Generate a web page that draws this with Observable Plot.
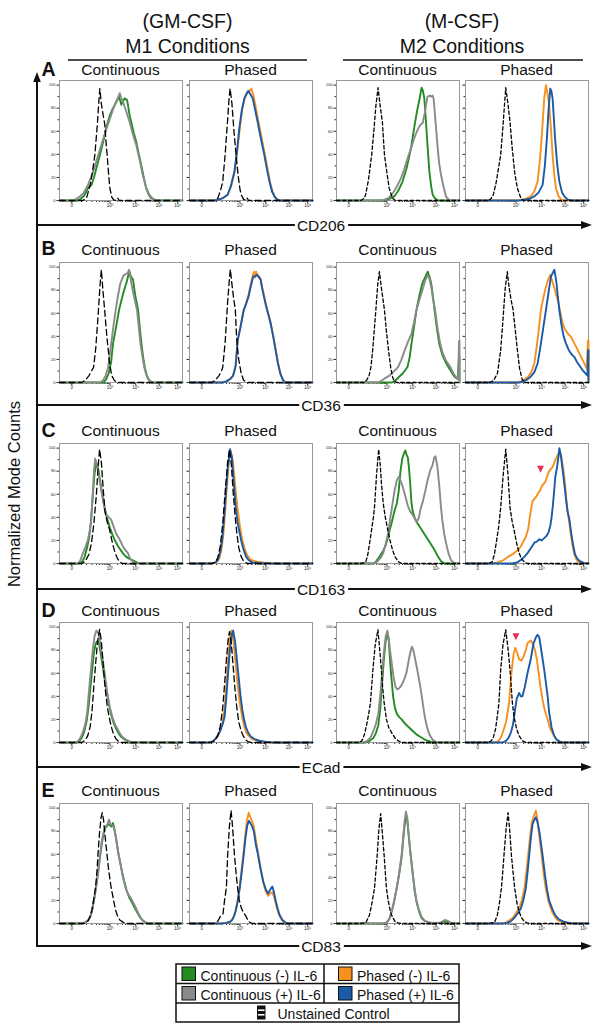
<!DOCTYPE html>
<html><head><meta charset="utf-8">
<script src="https://cdn.jsdelivr.net/npm/d3@7"></script>
<script src="https://cdn.jsdelivr.net/npm/@observablehq/plot@0.6"></script>
<style>
body{margin:0;background:#fff;}
#fig{position:relative;width:601px;height:1032px;font-family:"Liberation Sans",Arial,sans-serif;overflow:hidden;background:#fff}
.pnl{position:absolute}
#deco{position:absolute;left:0;top:0}
</style></head><body>
<div id="fig"><svg id="deco" width="601" height="1032"></svg></div>
<script>
// ---------- labels / ticks ----------
const markers = ["CD206","CD36","CD163","ECad","CD83"];
const rowLetters = ["A","B","C","D","E"];
const columnTitles = ["Continuous","Phased","Continuous","Phased"];
const groupTitles = [["(GM-CSF)","M1 Conditions"],["(M-CSF)","M2 Conditions"]];
const yTicks = [0,20,40,60,80,100];
const yMinor = [10,30,50,70,90];
const xTickPos = [10,41,62,81,96];
const xTickLabels = ["0","10³","10⁴","10⁵","10⁶"];
const legendNames = ["Continuous (-) IL-6","Continuous (+) IL-6","Phased (-) IL-6","Phased (+) IL-6","Unstained Control"];
const colors = {contNeg:"#228b22", contPos:"#8a8a8a", phasNeg:"#f7901e", phasPos:"#1b5aa6", unst:"#000"};

// ---------- data: [display position (0-100), normalized mode count] ----------
// Row A: CD206
const CD206_M1C_unst = [[19,0],[22,2],[25.5,16],[27.5,30],[28.8,40],[30.9,68],[32,86],[32.8,97],[34,84],[35.5,74],[36.8,66],[38,48],[38.7,40],[40,22],[40.9,11],[42.5,3],[44,0.5],[46.5,0],[47.5,2],[48.5,0]];
const CD206_M1C_neg = [[14,0],[16.7,1],[20,4],[23.4,11],[26,13.5],[28,20],[30,28],[33,40],[35.5,51],[38,63],[41,74],[43,79],[45,83],[47,87],[48.4,90],[49.5,86],[50.3,83],[51.5,86],[53,88.5],[55,87],[57,74],[59,65],[60.5,58],[62.4,51],[64.5,40],[66.4,31],[68.5,20],[70.4,11],[72.5,5],[74.5,2],[78.5,0]];
const CD206_M1C_pos = [[10,0],[13,1],[16,3],[19.4,6],[23,13],[27.4,25],[30.5,36],[34,48],[37.5,60],[41,71],[43.5,79],[46,85.6],[47.5,89],[49,93],[50.2,89],[51.6,85.6],[54,78],[57,68],[59.5,58],[62.4,48],[65,36],[67.7,22],[70.5,11],[73,5],[75.5,2],[78.5,0]];
const CD206_M1P_unst = [[20,0],[23,2],[25,8],[27,16],[29,40],[31,70],[32,86],[33,97],[34.5,84],[36,62],[37.8,40],[39.5,22],[41,10],[42,5],[44,1],[46,0],[47,2],[48,0]];
const CD206_M1P_neg = [[20,0],[23,0.5],[27,2],[31,5],[34,13],[37,27],[39,44],[41,64],[43,80],[45,89],[47,93],[49,95],[50.3,97],[52,91],[54,80],[56,69],[58.5,55],[61.3,40],[63.5,27],[65.5,16],[67.5,8],[69.5,3],[71.5,1],[74,0]];
const CD206_M1P_pos = [[20,0],[23,0.5],[27,2],[31,5],[33.5,12],[36.5,25],[38.5,42],[40.5,62.5],[42.5,78],[44.6,88.5],[46.5,93],[47.8,95],[49.5,92],[51.4,88.5],[53.5,78],[55.4,68],[58,54],[60.8,39.5],[63,27],[65,16.4],[67,8],[69,3.5],[71,1],[73,0]];
const CD206_M2C_unst = [[20,0],[22.5,2],[23.7,5],[26,18],[28.6,39.5],[30.5,62],[32,82],[33.8,97.7],[35.5,82],[37.3,68],[39,39.5],[41,24],[42.8,10.7],[45.5,2],[48,0]];
const CD206_M2C_neg = [[38,0],[40,0.5],[43,1.5],[46.9,3.5],[50,8],[53.7,16.4],[57,28],[60.5,45],[63,62],[65.4,77],[67.5,88],[69.2,97.7],[70.3,95],[71.4,88.5],[72.5,72],[73.6,54],[74.5,40],[75.5,25],[77,12],[78.2,5],[80,2],[82.3,0]];
const CD206_M2C_pos = [[36,0],[38.7,0.5],[42,2],[44,4],[46.9,8],[49,12],[52.3,19],[55,27],[57.8,36.6],[60.5,45],[63.2,54],[65,59],[67.3,64],[68.5,66],[70,67],[71,72],[72,77],[73,84],[74,90],[76,91],[77,90],[78.2,91],[79,88],[79.6,80],[81,62],[82.3,45],[83.5,32],[85,22],[87,12],[89,3.5],[91,1],[93,0]];
const CD206_M2P_unst = [[19,0],[21,2],[22.6,5],[25,16],[28.6,39.5],[30.5,65],[32.7,97.7],[34.5,84],[36.2,68],[38,45],[40,24],[42.2,10.7],[45,2],[47,0]];
const CD206_M2P_neg = [[42,0],[45,0.5],[49,1.5],[53,3.5],[56,8],[58.6,16.4],[60.5,35],[61.9,54],[63,72],[64,88.5],[65.4,100],[66.5,94],[68,83],[69.5,62],[70.8,39.5],[72.2,22],[73.6,10.7],[75.5,4],[77.7,1],[80,0]];
const CD206_M2P_pos = [[44,0],[47.7,0.5],[52,1.5],[55.9,3.5],[59.5,7],[62.7,13.5],[64.5,30],[66.2,54],[67.5,78],[68.9,97],[69.8,95],[70.8,88.5],[71.8,72],[72.8,54],[74.5,32],[76.3,16.4],[78.5,7],[80.4,3.5],[83,1],[85.8,0]];

// Row B: CD36
const CD36_M1C_unst = [[18,0],[21,2],[24,6],[26,10],[27.7,13],[29.5,30],[31.5,60],[33,85],[34,97.7],[35.3,80],[36.7,62.8],[38.5,40],[40.8,16],[42.5,6],[44.5,2],[47,0]];
const CD36_M1C_neg = [[36,0],[38,3],[40,8],[42,18],[43.5,33.7],[46,48],[48.4,62.8],[50.5,72],[52.5,80],[54.3,86],[56,93],[57,96],[58,92],[59.8,89],[61.5,76],[63.9,62.8],[65.2,48],[66.6,33.7],[68,22],[69.3,13],[71,6],[73,2],[75,0]];
const CD36_M1C_pos = [[33,0],[35.5,2],[37.5,6],[39.5,13],[42,33.7],[44,50],[45.7,62.8],[47.5,75],[49.5,86],[51,90],[52.2,93],[54,94],[55.5,95],[56.5,97.7],[57.5,92],[58.4,86],[60.5,75],[63,62.8],[64.5,48],[65.8,33.7],[67.5,22],[69,13],[70.5,7],[72,3],[74,1],[76,0]];
const CD36_M1P_unst = [[18,0],[21,2],[24,6],[26,10],[27,13],[29,35],[31,70],[32.5,90],[33.2,98],[34.5,85],[36,72],[37.3,62.8],[38,45],[38.7,33.7],[40,20],[42,8],[44,2],[47,0]];
const CD36_M1P_neg = [[27,0],[30,1],[33,3],[35.5,6],[37.5,15],[39.2,37],[41.5,49],[44.1,63],[46,69],[48,76],[50,86],[51.5,93],[52.5,96],[53.3,91],[54.2,96],[55.2,93],[56.5,92],[57.8,90],[59,83],[60.5,76],[62.5,66],[64.3,59],[66,52],[68,41],[70,29],[72,17],[74,8],[76,2.5],[78,0]];
const CD36_M1P_pos = [[27,0],[30,1],[33,3],[35.5,6],[37.5,14],[39.2,36.6],[41.5,48],[44.1,62.8],[46,68],[48,74.4],[50,84],[51.8,91.9],[53.5,92],[55,93.3],[56.5,91],[57.8,89],[59,82],[60.5,74.4],[62.5,65],[64.3,58],[66,51],[68,40],[70,28],[72,16],[74,7],[76,2],[78,0]];
const CD36_M2C_unst = [[22,0],[24.5,2],[26.5,6],[28,13.4],[29.4,28],[32,62.8],[33.5,85],[34.9,96],[36.5,82],[39,62.8],[40.5,45],[42.3,28],[44,13.4],[45.5,5],[47,1],[49,0]];
const CD36_M2C_neg = [[45,0],[48,2],[51,5],[54,8],[57.7,13.4],[59.5,22],[61,33.7],[63,48],[65,62.8],[67.5,76],[69.8,86],[72,91],[74.2,96],[75.5,92],[77,86],[78.5,74],[79.7,62.8],[81.5,48],[83.5,33.7],[86,24],[88.5,18],[91,13.4],[93.5,9],[96,5],[98.5,3],[99.6,22],[100,22]];
const CD36_M2C_pos = [[34,0],[37,2],[40,4],[43,6],[46,9],[48,11],[50,13.4],[52.5,19],[55.5,28],[58,35],[61,42.4],[63,52],[65,62.8],[67.5,72],[69.8,80],[72,88],[74.2,93.3],[75.5,90],[77,83],[78.5,72],[80.2,62.8],[82,48],[84.3,33.7],[86.5,25],[89,19],[92.6,13.4],[95,8],[97.5,4],[99,3],[99.6,36],[100,36]];
const CD36_M2P_unst = [[20,0],[23,2],[26,8],[28.6,28],[30.5,55],[32.3,82],[34,96],[35.5,82],[37,72],[38.7,62.8],[40.5,45],[42.2,28],[44,12],[46,3],[48,0]];
const CD36_M2P_neg = [[42,0],[45,1],[48,2.5],[51,5],[53.5,9],[55.9,16.3],[58,32],[59.5,45],[61.3,62.8],[63,72],[64.5,79],[66.2,86],[67.5,90],[69,93.3],[70.5,88],[72.8,80],[74,75],[75,71.5],[76.5,64],[78,56],[79,51],[81,46],[83.5,42],[85.8,39.5],[88,35],[91.3,28],[94,22],[96.7,16.3],[98.5,12],[99.6,36.6],[100,36.6]];
const CD36_M2P_pos = [[44,0],[47,1],[50,2.5],[53,5],[56,9],[58.6,16.3],[60,25],[61.3,33.7],[63.3,48],[65.4,62.8],[67.5,78],[69.5,91.9],[71,95],[72.2,97.7],[73,93],[74,86],[75,75],[76.3,62.8],[78,50],[79.8,40],[81.7,33.7],[84,28],[86.5,24],[88.6,22],[90.5,18],[92.6,14.8],[95,11],[97.5,8],[99.2,6],[99.6,28],[100,28]];

// Row C: CD163
const CD163_M1C_unst = [[18,0],[21,2],[24,8],[26,18],[28,35],[30,60],[31.5,85],[32.6,99],[34,88],[35.5,65],[37,45],[39,35],[40.8,29],[43,18],[45,10],[47,4.5],[49,1.5],[51,0]];
const CD163_M1C_neg = [[16,0],[18.5,1.5],[20.5,6],[22.5,14],[24,22],[25.5,35],[27,58],[28.5,78],[30,87],[31.5,82],[33,72],[35,58],[37,46],[39,38],[41,31],[43,25],[44.8,20.6],[47,16],[49.5,12],[51.6,8.8],[54,6],[57,4],[60,2.5],[62,1.5],[65,0]];
const CD163_M1C_pos = [[14,0],[16.5,1.5],[19,8.8],[21,14],[23.1,20.6],[24.5,28],[25.8,38],[27,60],[28,80],[29,91],[30.5,86],[32,76],[34,63],[36,52],[38,42.6],[40,40],[42,38],[44,32],[46,26],[49,20.6],[52,14],[55.7,8.8],[57.5,4],[59.8,1.5],[62,0]];
const CD163_M1P_unst = [[18,0],[21,1],[23,5],[25,15],[27,34],[29,62],[31,88],[32.5,99],[34,86],[35.5,62],[37,42],[38.5,26],[40,14],[42,6],[44,2],[47,0]];
const CD163_M1P_neg = [[19,0],[22,1],[24,4],[26,12],[27.5,25],[29,45],[30.5,68],[32,88],[33.5,97],[35,90],[36.5,75],[38,58],[39.5,44],[41,32],[43,20],[45,12],[47,7],[50,3],[55,1.5],[62,0.5],[68,0]];
const CD163_M1P_pos = [[18,0],[21,1],[23,3],[25,10],[26.5,20],[28,38],[29.5,60],[31,82],[33,99],[34.5,92],[36,70],[37.5,50],[39,36],[40.5,28],[42,20],[44,12],[46,6],[48,3],[51,1],[56,0.5],[65,0]];
const CD163_M2C_unst = [[20,0],[22,0.5],[24,2],[25.5,8],[26.8,17],[28.5,29],[30,40],[31,50],[32.5,76],[34.3,99],[35.5,86],[36.5,70],[38,52],[39.7,40],[41.5,30],[43.4,20.6],[45.5,12],[47.5,6],[50.3,1.5],[53,0]];
const CD163_M2C_neg = [[30,0],[32,1.5],[35,6],[38,11],[40,16],[41.5,21],[43,28],[45,36],[47,45],[49,52],[50.5,62],[52,80],[53.5,91],[55,96],[56,98],[57,94],[58,92],[59,82],[60,68],[61,52],[62,45],[63.5,40],[65,36],[67,33],[70,28],[73,23],[76,18],[79,13],[82,7],[85,2],[88,0]];
const CD163_M2C_pos = [[30,0],[33,1.5],[36,5],[38,9],[40,17],[42,26],[43.5,38],[45,48],[47,62],[49,72],[50.5,75],[52,72],[54,66],[56,58],[58,50],[60,45],[62,42],[64,38],[65.5,36],[67,40],[68.5,48],[70,53],[72,62],[74,72],[76,80],[78,85],[79.5,92],[80.5,93],[82,84],[83.5,68],[85,48],[86,38],[87.5,26],[89,18],[91,9],[93,3],[95,1],[97,0]];
const CD163_M2P_unst = [[18,0],[20,0.5],[21.8,1.5],[23.5,8],[25,18],[27,32],[28.6,48.5],[30.5,75],[32.7,99],[34.5,78],[36.2,48.5],[38,36],[39.5,29],[41.5,18],[43.6,9],[45.5,4],[47.7,1.5],[50,0]];
const CD163_M2P_neg = [[22,0],[26,1],[31,3],[35,6],[39.5,9],[43,12],[45,15],[47,19],[49,23],[51,30],[52,38],[53,45],[54.5,54],[56,56],[57.5,58],[59,61],[60.5,63],[62,67],[63.5,69],[65,71],[66.5,76],[68,80],[69.5,82],[71,84],[72.5,88],[74,92],[75.5,95],[76.5,97],[78,92],[79.5,82],[81,68],[82,55],[83,45],[84,38],[85.5,26],[87,16],[88.5,8],[90,4],[92,1],[95,0]];
const CD163_M2P_pos = [[38,0],[42,1],[45,3],[48,6],[50.4,9],[53,13],[56,18],[58,19],[60,21],[62,20],[64,22],[66,24],[67.5,27],[69,33],[70,40],[71,50],[72,62],[73,75],[74.5,84],[75.5,92],[76.3,100],[77.5,94],[78.5,85],[80,72],[81.5,58],[83,45],[84.5,38],[86,26],[87.5,16],[89,8],[91,4],[93,2],[96,0.5],[98,0]];

// Row D: ECad
const ECad_M1C_unst = [[18,0],[21,2],[23,6],[25,14],[26.5,28],[28,50],[29.5,70],[31,88],[32.6,98],[34,88],[35.5,68],[37,48],[38.5,34],[40,24],[42,14],[44,7],[46,3],[48,1],[50,0]];
const ECad_M1C_neg = [[13,0],[16,1],[18,4],[20,9],[22,18],[23.5,30],[25,46],[26.5,62],[28,78],[29.5,86],[31,88],[32.5,84],[34,74],[36,60],[38,46],[40,34],[42,24],[44,17],[46,12],[48,8],[50,5],[53,2.5],[56,1],[59,0]];
const ECad_M1C_pos = [[12,0],[15,1],[17,4],[19,9],[21,16],[22.5,26],[24,45],[25.5,63],[27,80],[28.5,92],[30,97],[31.5,95],[33,87],[35,73],[37,58],[39,42],[41,30],[43,22],[45,16],[47,12],[49,8],[51,5],[54,2.5],[57,1],[60,0]];
const ECad_M1P_unst = [[18,0],[21,2],[23,6],[25,14],[27,30],[28.5,50],[30,72],[31.5,90],[32.5,96],[34,86],[35.5,66],[37,46],[38.5,30],[40,18],[42,10],[44,5],[46,2],[48,0.5],[50,0]];
const ECad_M1P_neg = [[16,0],[19,1],[21,3],[23,6],[25,11],[27,18],[28.5,30],[30,50],[31.5,75],[33,94],[34,97],[35.5,90],[37,74],[38.5,57],[40,42],[41.5,30],[43,21],[44.5,14],[46,9],[48,6],[51,3],[55,1.5],[60,0.5],[66,0]];
const ECad_M1P_pos = [[16,0],[19,1],[21,3],[23,6],[25,10],[27,16],[28.5,22],[30,40],[31.5,62],[33,82],[34.5,94],[35.5,97],[37,88],[38.5,72],[40,56],[41.5,40],[43,28],[44.5,19],[46,13],[48,8],[50,5],[53,3],[57,1.5],[62,0.5],[68,0]];
const ECad_M2C_unst = [[18,0],[20,1],[21.3,2.8],[23,8],[25,18],[26.5,27],[27.6,34.5],[29.6,63],[31.5,85],[33.7,97.7],[35,82],[36.5,63],[37.5,48],[38.7,34.5],[40.6,20],[42.5,13],[44.8,8.6],[47.5,4],[50.3,1.4],[53,0]];
const ECad_M2C_neg = [[24,0],[27,1.5],[30,4],[32,8],[34,15],[35.5,28],[37,50],[38.5,72],[40,88],[41.4,95],[42.5,88],[43.5,72],[44.5,58],[46,40],[47.5,30],[49,25],[51,22],[53,20],[56,16],[59,13],[62,10],[65,7],[68,5],[71,3],[74,1.5],[77,0.5],[80,0]];
const ECad_M2C_pos = [[22,0],[25,1.5],[28,5],[30,10],[32,16],[34,25],[35.5,40],[37,60],[38.5,78],[40,92],[41.4,97],[42.5,90],[43.5,80],[45,68],[46.5,56],[48,48],[49.5,46],[51,47],[52.5,49],[54,52],[55.5,56],[57,61],[58.5,70],[60,78],[61.3,83],[62.5,80],[64,72],[65.5,64],[67,55],[68.5,46],[70,35],[71.5,24],[73,16],[74.5,10],[76,6],[78,2.5],[80,1],[83,0]];
const ECad_M2P_unst = [[18,0],[20.5,1],[22.5,4],[24.5,12],[26,24],[27.2,34.5],[28.6,63],[30.5,85],[32.7,97.7],[34.5,82],[36.2,63],[37.2,48],[38.1,34.5],[39.5,22],[41.5,12],[43.5,6],[46.3,1.5],[49,0]];
const ECad_M2P_neg = [[24,0],[27,1.5],[29,5],[31,11],[33,18],[35.4,34],[37.3,60],[39,76],[40.4,82],[42,78],[43.6,72],[45.5,71],[47,74],[49,80],[50.4,86],[53,88.4],[55,85],[56.5,80],[58,72],[59.5,60],[61,48],[62.5,38],[64,30],[65.5,24],[66.8,20],[68.5,13],[70.8,8],[73,4],[75,1.5],[78,0]];
const ECad_M2P_pos = [[30,0],[33,1.5],[35,4],[37,9],[38.5,15],[39.5,22],[40.5,30],[41.7,38],[43.6,43],[45,40],[46.3,40],[48.2,48],[50.4,60],[53,72],[55.3,86],[57.2,91],[58.6,93.4],[60,91],[61.9,78],[64,63],[66.8,40],[68,26],[70,13],[72,6],[74,2.5],[77,0.5],[80,0]];

// Row E: CD83
const CD83_M1C_unst = [[20,0],[23,2],[25,6],[26.5,12],[28,22],[29.3,31],[30.5,46],[31.3,60],[32.5,78],[33.8,92],[34.8,96],[35.8,90],[37,76],[38.6,60],[40,46],[42,31],[44,20],[45.5,12],[47,7],[49,3],[52,1],[55,0]];
const CD83_M1C_neg = [[18,0],[21,1],[23.5,3],[25.5,7],[27,14],[28.5,23],[30,33],[31.5,45],[33,58],[34.5,70],[36,79],[37.5,83],[39,85],[40.5,86],[42,84],[43.5,87],[45,80],[46.5,70],[48,60],[49.5,52],[51,44],[52.5,37],[54.5,29],[56.5,23],[58.5,19],[60.5,15],[62.5,11],[64.5,7],[66.5,4],[69,1.5],[72,0]];
const CD83_M1C_pos = [[18,0],[21,1],[23.5,3],[25.5,8],[27,15],[28.5,24],[30,34],[31.5,46],[33,60],[34.5,72],[36,80],[37.5,84],[39,86],[40.2,90],[41.5,86],[43,85],[44.5,82],[46,74],[47.6,62],[49,55],[50.5,46],[52,38],[54,30],[56,25],[58,22],[60,18],[62,14],[64,9],[66,5],[68,2],[71,0.5],[74,0]];
const CD83_M1P_unst = [[20,0],[23,2],[25,6],[27.2,8],[28.5,20],[30,31],[31,59],[32.5,85],[33.8,98],[35,84],[36.5,60],[38,42],[39.2,30],[40.5,20],[42,14],[43.5,10],[45.5,7],[48.2,1.5],[51,0]];
const CD83_M1P_neg = [[26,0],[30,0.5],[33,1.5],[34.6,3],[36,6],[37.3,10],[39,19],[40.9,33],[42.5,48],[44.1,63],[45.5,78],[46.8,90],[48.2,96],[49.5,92],[51,88],[52.3,84],[54,72],[55.6,62],[57.8,48],[60,36],[61.9,28],[63.8,24],[65.5,26],[67.3,27],[68.5,24],[70,18],[71.4,12],[73,7],[75.5,2.5],[78,0.5],[80,0]];
const CD83_M1P_pos = [[26,0],[30,0.5],[33,1.5],[34.6,3],[36,6],[37.3,10],[39,18],[40.9,31],[42.5,45],[44.1,60],[45.5,74],[46.8,84],[48.2,89],[49.5,87],[51,84],[52.3,80],[54,68],[55.6,60],[57.8,47],[60,36],[61.9,30],[63.8,26],[65.5,29],[67.3,32],[68.5,28],[70,20],[71.4,14],[73,8],[75.5,3],[78,0.8],[80,0]];
const CD83_M2C_unst = [[20,0],[22.5,0.5],[24,1],[26.8,7.3],[28.5,16],[30.9,30.6],[32,45],[33.1,59.5],[34.5,82],[35.9,95.3],[37,82],[38.7,59.5],[39.7,44],[40.6,30.6],[42,20],[43.5,12],[44.8,7.3],[47.5,1.8],[50,0.5],[53,0]];
const CD83_M2C_neg = [[38,0],[41,1],[43,4],[45.3,12],[47,20],[49,31],[51,43],[53,58],[54.5,76],[55.5,86],[56.4,92],[57.5,90],[58.5,78],[60,62],[61.8,45],[63.5,29],[65,19],[67,11],[69,5],[72,2],[76,0.5],[80,0.3],[85,0.5],[88,1.5],[90,1.5],[93,0.3],[96,0]];
const CD83_M2C_pos = [[38,0],[41,1],[43,4],[45.3,12],[47,20],[49,31],[51,44],[53,60],[54.5,78],[55.5,90],[56.4,97],[57.5,92],[58.5,80],[60,62],[61.8,45],[63.5,30],[65,20],[67,12],[69,6],[72,2],[76,1],[80,0.5],[85,1],[88,3],[90,2.5],[93,0.5],[96,0]];
const CD83_M2P_unst = [[19,0],[22,0.5],[24,2],[25.9,7.3],[27.5,17],[29.2,30.6],[30.3,45],[31.3,59.5],[33,82],[34.6,96],[36,80],[37.3,59.5],[38.7,44],[40,30.6],[41.8,18],[43.6,10.2],[45.5,5],[47.7,1.8],[50,0.5],[53,0]];
const CD83_M2P_neg = [[30,0],[33,1],[36,3],[38.5,5],[41,9],[44,14],[46,21],[48,31],[49.5,45],[51,60],[52.5,75],[54,88],[55.5,93],[57.2,97.7],[58.5,90],[59.5,80],[60.5,72],[62,58],[63.7,42],[65.5,29],[67.5,19],[70,11],[72.5,6],[75,3],[79,1],[84,0]];
const CD83_M2P_pos = [[30,0],[34,0.5],[37,2],[39.5,4.6],[42,8],[45,13],[47,20],[49,30],[50.5,45],[51.8,59],[53.1,74],[54.5,86],[56,90],[57.2,92],[58.5,88],[60,80],[60.8,74],[62.7,59],[64.5,43],[66.2,30],[68,20],[70.8,12],[73,7],[76,3.5],[80,1.5],[84,0.5],[88,0]];

// red arrowheads marking the shoulder
const arrowMarks = [{row:2, col:3, x:61, y:82}, {row:3, col:3, x:41, y:92}];

// ---------- panel table ----------
const panels = [
  [0,0,CD206_M1C_unst,CD206_M1C_neg,CD206_M1C_pos],[0,1,CD206_M1P_unst,CD206_M1P_neg,CD206_M1P_pos],
  [0,2,CD206_M2C_unst,CD206_M2C_neg,CD206_M2C_pos],[0,3,CD206_M2P_unst,CD206_M2P_neg,CD206_M2P_pos],
  [1,0,CD36_M1C_unst,CD36_M1C_neg,CD36_M1C_pos],[1,1,CD36_M1P_unst,CD36_M1P_neg,CD36_M1P_pos],
  [1,2,CD36_M2C_unst,CD36_M2C_neg,CD36_M2C_pos],[1,3,CD36_M2P_unst,CD36_M2P_neg,CD36_M2P_pos],
  [2,0,CD163_M1C_unst,CD163_M1C_neg,CD163_M1C_pos],[2,1,CD163_M1P_unst,CD163_M1P_neg,CD163_M1P_pos],
  [2,2,CD163_M2C_unst,CD163_M2C_neg,CD163_M2C_pos],[2,3,CD163_M2P_unst,CD163_M2P_neg,CD163_M2P_pos],
  [3,0,ECad_M1C_unst,ECad_M1C_neg,ECad_M1C_pos],[3,1,ECad_M1P_unst,ECad_M1P_neg,ECad_M1P_pos],
  [3,2,ECad_M2C_unst,ECad_M2C_neg,ECad_M2C_pos],[3,3,ECad_M2P_unst,ECad_M2P_neg,ECad_M2P_pos],
  [4,0,CD83_M1C_unst,CD83_M1C_neg,CD83_M1C_pos],[4,1,CD83_M1P_unst,CD83_M1P_neg,CD83_M1P_pos],
  [4,2,CD83_M2C_unst,CD83_M2C_neg,CD83_M2C_pos],[4,3,CD83_M2P_unst,CD83_M2P_neg,CD83_M2P_pos]
];

// ---------- layout ----------
const colLefts = [59, 189, 336, 465];
const rowTops = [80, 262, 443, 622, 803];
const titleBase = [75, 254.5, 436, 616, 796];
const axisLineY = [225, 405, 589, 767, 946];
const PW = 123, PH = 120, ML = 14, MR = 3, MT = 2, MB = 10;
const FONT = "Liberation Sans, Arial, Helvetica, sans-serif";

const xMinor = [];
[[41,62],[62,81],[81,96]].forEach(([a,b]) => { for (let k=2;k<=9;k++) xMinor.push(a+(b-a)*Math.log10(k)); });
for (let k=2;k<=9;k++) xMinor.push(41+21*Math.log10(k/10));
xMinor.push(3,6,14,18,22);
const xLabelMap = new Map(xTickPos.map((p,i)=>[p, xTickLabels[i]]));
const pad = pts => [[0,0], ...pts, [100,0]];
const triDown = {draw(ctx, size){ const h=Math.sqrt(size); ctx.moveTo(-h*0.5,-h*0.45); ctx.lineTo(h*0.5,-h*0.45); ctx.lineTo(0,h*0.55); ctx.closePath(); }};

const fig = document.getElementById("fig");
panels.forEach(([r,c,unst,neg,pos]) => {
  const phased = c % 2 === 1;
  const m1 = c < 2;
  const showY = !phased;
  const arrows = arrowMarks.filter(a => a.row===r && a.col===c);
  const chart = Plot.plot({
    width: PW+ML+MR, height: PH+MT+MB,
    marginLeft: ML, marginRight: MR, marginTop: MT, marginBottom: MB,
    x: {domain: [0,100]}, y: {domain: [0,104]},
    style: {fontFamily: FONT, background: "transparent", overflow: "visible", color: "#222"},
    marks: [
      Plot.axisY({ticks: yMinor, tickSize: 1.5, tickFormat: () => "", label: null}),
      Plot.axisY({ticks: yTicks, tickSize: 2.5, tickPadding: 1.5, fontSize: 4, label: null, tickFormat: d => showY ? String(d) : ""}),
      Plot.axisX({ticks: xMinor, tickSize: 2, tickFormat: () => "", label: null}),
      Plot.axisX({ticks: xTickPos, tickSize: 3, tickPadding: 0.5, fontSize: 4.5, label: null, tickFormat: d => xLabelMap.get(d) ?? ""}),
      Plot.axisX({ticks: [10], tickSize: 2, strokeWidth: 3.5, tickFormat: () => "", label: null}),
      Plot.frame({stroke: "#999", strokeWidth: 1}),
      Plot.line(pad(neg), {x: d=>d[0], y: d=>d[1], stroke: phased ? colors.phasNeg : colors.contNeg, strokeWidth: 1.9}),
      Plot.line(pad(pos), {x: d=>d[0], y: d=>d[1], stroke: phased ? colors.phasPos : colors.contPos, strokeWidth: 1.9}),
      Plot.line(pad(unst), {x: d=>d[0], y: d=>d[1], stroke: colors.unst, strokeWidth: 1.3, strokeDasharray: m1 ? "6,3.5" : "3.5,2.5"}),
      Plot.dot(arrows, {x: "x", y: "y", symbol: triDown, r: 3.9, fill: "#e5314c", stroke: "none"})
    ]
  });
  chart.classList.add("pnl");
  chart.style.left = (colLefts[c]-ML)+"px";
  chart.style.top = (rowTops[r]-MT)+"px";
  fig.appendChild(chart);
});

// ---------- decorations ----------
const NS = "http://www.w3.org/2000/svg";
const deco = document.getElementById("deco");
function el(tag, attrs, text){ const e=document.createElementNS(NS,tag); for (const k in attrs) e.setAttribute(k, attrs[k]); if (text!=null) e.textContent=text; deco.appendChild(e); return e; }
const T = (x,y,s,size,extra={}) => el("text", Object.assign({x, y, "font-family": FONT, "font-size": size, fill:"#111"}, extra), s);

// group headers
const groupCenters = [187.5, 462];
groupTitles.forEach((g,i) => {
  T(groupCenters[i], 28, g[0], 19.5, {"text-anchor":"middle"});
  T(groupCenters[i], 53, g[1], 19.5, {"text-anchor":"middle"});
});
el("line", {x1:68, x2:307, y1:60, y2:60, stroke:"#111", "stroke-width":1.6});
el("line", {x1:343, x2:583, y1:60, y2:60, stroke:"#111", "stroke-width":1.6});

// row letters and column titles
rowLetters.forEach((L,r) => {
  T(41.5, titleBase[r]+0.5, L, 19.5, {"font-weight":"bold"});
  columnTitles.forEach((t,c) => T(colLefts[c]+PW/2, titleBase[r], t, 15.5, {"text-anchor":"middle"}));
});

// vertical y axis with arrow
el("line", {x1:37, x2:37, y1:80, y2:axisLineY[4]+1, stroke:"#111", "stroke-width":2});
el("polygon", {points:"33.2,82 40.8,82 37,72", fill:"#111"});
T(0,0,"Normalized Mode Counts", 16.5, {"text-anchor":"middle", transform:"translate(19.5,494) rotate(-90)"});

// horizontal axis per row with marker label
markers.forEach((m,r) => {
  const y = axisLineY[r];
  const t = T(321, y+5.5, m, 15.5, {"text-anchor":"middle"});
  const w = t.getComputedTextLength ? t.getComputedTextLength() : 45;
  el("line", {x1:36, x2:321-w/2-2, y1:y, y2:y, stroke:"#111", "stroke-width":2});
  el("line", {x1:321+w/2+3, x2:584, y1:y, y2:y, stroke:"#111", "stroke-width":2});
  el("polygon", {points:`581,${y-4} 581,${y+4} 592,${y}`, fill:"#111"});
});

// legend
const LX0 = 176, LX1 = 459, LY = [964, 983.5, 1003, 1022], LMID = 324;
el("rect", {x:LX0, y:LY[0], width:LX1-LX0, height:LY[3]-LY[0], fill:"none", stroke:"#111", "stroke-width":1.5});
el("line", {x1:LX0, x2:LX1, y1:LY[1], y2:LY[1], stroke:"#111", "stroke-width":1.5});
el("line", {x1:LX0, x2:LX1, y1:LY[2], y2:LY[2], stroke:"#111", "stroke-width":1.5});
el("line", {x1:LMID, x2:LMID, y1:LY[0], y2:LY[2], stroke:"#111", "stroke-width":1.5});
const legendItems = [
  {name: legendNames[0], color: colors.contNeg, x: 182, row: 0},
  {name: legendNames[2], color: colors.phasNeg, x: 338.5, row: 0},
  {name: legendNames[1], color: colors.contPos, x: 182, row: 1},
  {name: legendNames[3], color: colors.phasPos, x: 338.5, row: 1}
];
legendItems.forEach(it => {
  const y0 = LY[it.row];
  el("rect", {x: it.x, y: y0+3, width: 13.5, height: 13.5, fill: it.color, stroke: "#111", "stroke-width": 1});
  T(it.x+18.5, y0+16.5, it.name, 14);
});
el("rect", {x:257, y:1005.5, width:8.5, height:14, fill:"#111"});
el("line", {x1:258, x2:264.5, y1:1010.2, y2:1010.2, stroke:"#fff", "stroke-width":1.6});
el("line", {x1:258, x2:264.5, y1:1014.8, y2:1014.8, stroke:"#fff", "stroke-width":1.6});
T(277.5, 1018.5, legendNames[4], 14);
</script>
</body></html>
